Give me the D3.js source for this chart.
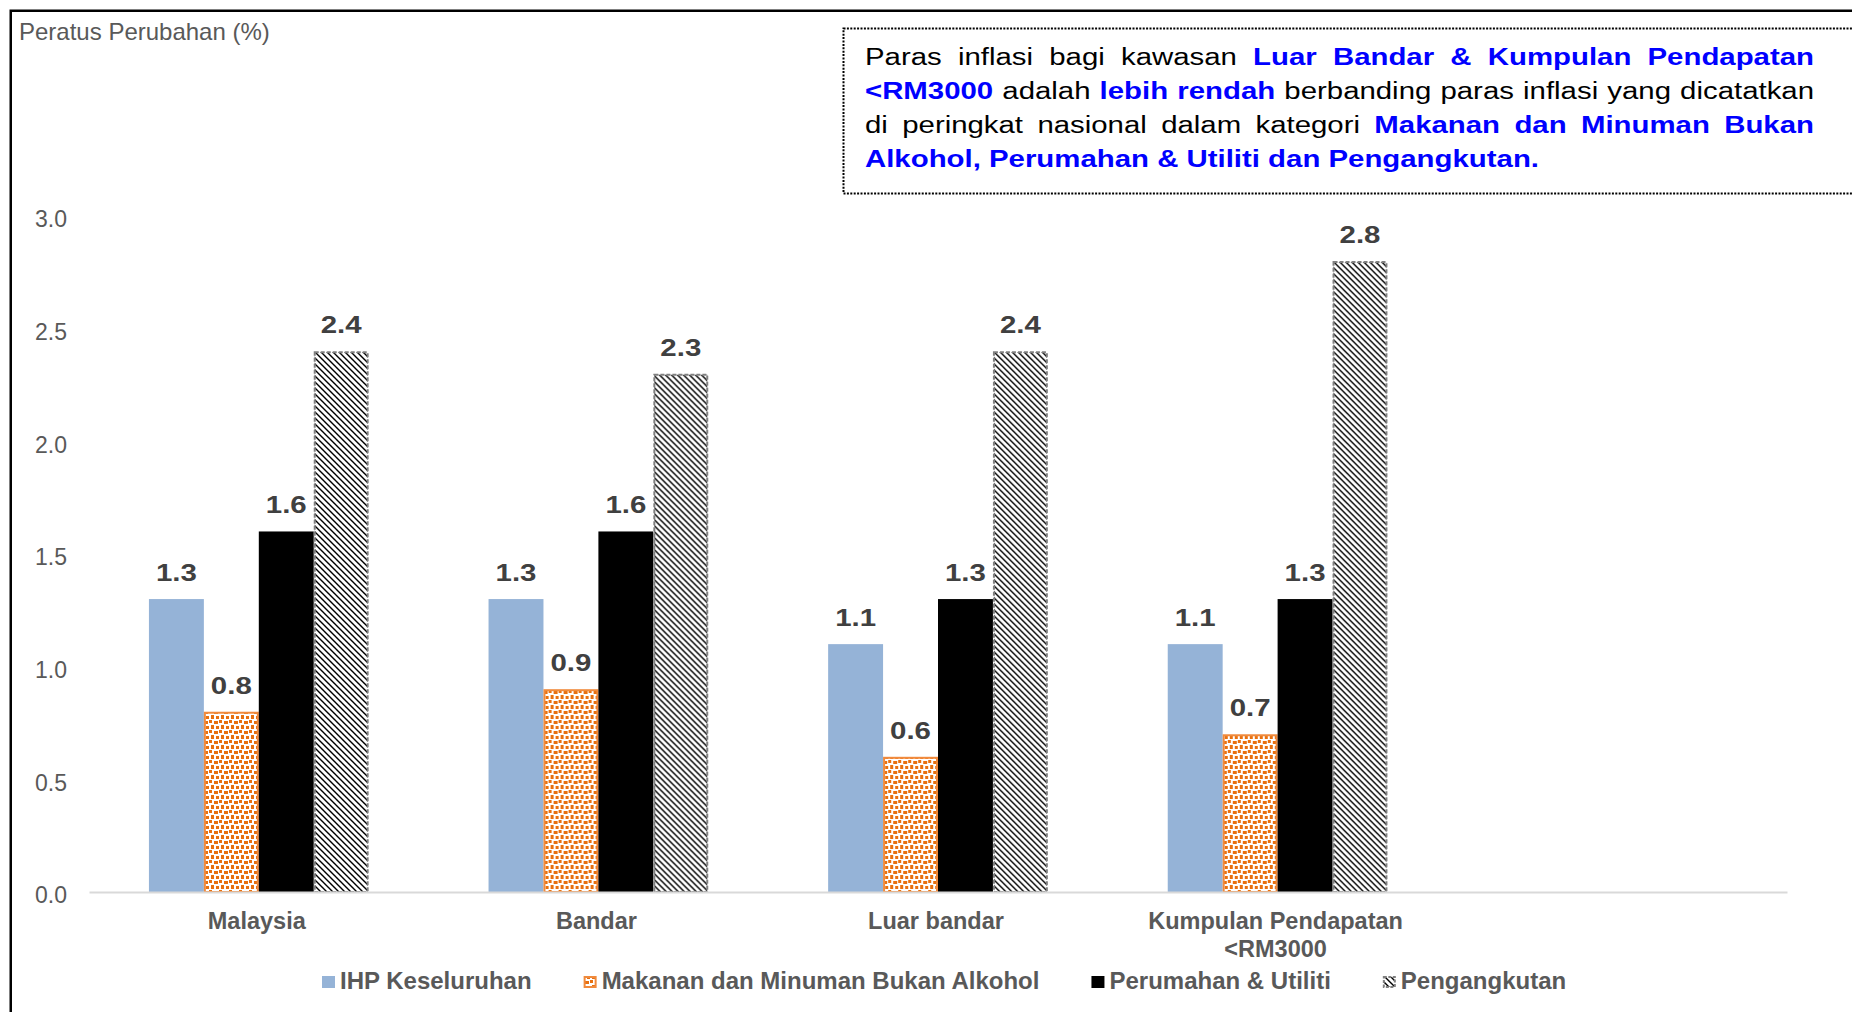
<!DOCTYPE html>
<html>
<head>
<meta charset="utf-8">
<script src="https://cdn.jsdelivr.net/npm/d3@7"></script>
<style>
  html, body { margin: 0; padding: 0; background: #fff; }
  svg { display: block; font-family: "Liberation Sans", Arial, sans-serif; }
</style>
</head>
<body>
<svg id="chart" width="1852" height="1012"></svg>
<script>
// ---- DATA ----
const categories = ["Malaysia", "Bandar", "Luar bandar", "Kumpulan Pendapatan\n<RM3000"];
const series = ["IHP Keseluruhan", "Makanan dan Minuman Bukan Alkohol", "Perumahan & Utiliti", "Pengangkutan"];
const ihpKeseluruhan = [1.3, 1.3, 1.1, 1.1];
const makananMinuman = [0.8, 0.9, 0.6, 0.7];
const perumahanUtiliti = [1.6, 1.6, 1.3, 1.3];
const pengangkutan = [2.4, 2.3, 2.4, 2.8];
const yTicks = [0, 0.5, 1.0, 1.5, 2.0, 2.5, 3.0];
const yTitle = "Peratus Perubahan (%)";
const noteLines = [
  [["Paras inflasi bagi kawasan", false], ["Luar Bandar & Kumpulan Pendapatan", true]],
  [["<RM3000", true], ["adalah", false], ["lebih rendah", true], ["berbanding paras inflasi yang dicatatkan", false]],
  [["di peringkat nasional dalam kategori", false], ["Makanan dan Minuman Bukan", true]],
  [["Alkohol, Perumahan & Utiliti dan Pengangkutan.", true]]
];

const seriesValues = [ihpKeseluruhan, makananMinuman, perumahanUtiliti, pengangkutan];

const svg = d3.select("#chart");
const defs = svg.append("defs");

// hatch pattern (downward diagonal)
const hp = defs.append("pattern").attr("id", "hatch").attr("patternUnits", "userSpaceOnUse")
  .attr("width", 6).attr("height", 6);
hp.append("rect").attr("width", 6).attr("height", 6).attr("fill", "#fff");
hp.append("path").attr("d", "M-1,-1 L7,7 M-1,5 L1,7 M5,-1 L7,1")
  .attr("stroke", "#000").attr("stroke-width", 1.4);

// confetti pattern (orange)
const cp = defs.append("pattern").attr("id", "confetti").attr("patternUnits", "userSpaceOnUse")
  .attr("width", 10).attr("height", 10);
cp.append("rect").attr("width", 10).attr("height", 10).attr("fill", "#fff");
[[0,0,3,3],[5,1,4,3],[2,5,3,4],[7,6,3,3]].forEach(r =>
  cp.append("rect").attr("x", r[0]).attr("y", r[1]).attr("width", r[2]).attr("height", r[3]).attr("fill", "#E8700F"));

const fills = ["#95B3D7", "url(#confetti)", "#000000", "url(#hatch)"];
const strokes = ["none", "#F08A3C", "none", "#808080"];
const dashes = [null, null, null, "4,2"];

// outer frame (extends off-canvas right/bottom)
svg.append("rect").attr("x", 10.75).attr("y", 10.75).attr("width", 1900).attr("height", 1100)
  .attr("fill", "none").attr("stroke", "#000").attr("stroke-width", 2.5);

// scales
const x0 = d3.scaleBand().domain([...categories, "__empty__"]).range([89, 1787]).padding(0);
const bw = x0.bandwidth();
const x1 = d3.scaleBand().domain(series).range([bw * 0.1765, bw * 0.8235]).padding(0);
const y = d3.scaleLinear().domain([0, 3]).range([892, 216]);

// y axis title
svg.append("text").attr("x", 19).attr("y", 39.5).attr("font-size", 24).attr("fill", "#595959").text(yTitle);

// y tick labels via axis
const yAxis = d3.axisLeft(y).tickValues(yTicks).tickFormat(d3.format(".1f")).tickSize(0).tickPadding(0);
const yg = svg.append("g").attr("transform", "translate(67,0)").call(yAxis);
yg.select(".domain").remove();
yg.selectAll("text").attr("font-size", 23).attr("fill", "#595959")
  .attr("font-family", "Liberation Sans, Arial, sans-serif").attr("dy", "10.7").attr("text-anchor", "end");

// bars
const groups = svg.append("g").selectAll("g").data(categories).join("g")
  .attr("transform", d => `translate(${x0(d)},0)`);
series.forEach((s, si) => {
  const inset = strokes[si] !== "none" ? 1 : 0;
  groups.append("rect")
    .attr("x", () => x1(s) + inset)
    .attr("y", (d, i) => y(seriesValues[si][i]) + inset)
    .attr("width", x1.bandwidth() - 2 * inset)
    .attr("height", (d, i) => y(0) - y(seriesValues[si][i]) - inset)
    .attr("fill", fills[si])
    .attr("stroke", strokes[si])
    .attr("stroke-width", 2)
    .attr("stroke-dasharray", dashes[si]);
});

// x axis line
const xAxis = d3.axisBottom(x0).tickSize(0).tickFormat("");
const xg = svg.append("g").attr("transform", `translate(0,${y(0)})`).call(xAxis);
xg.select(".domain").attr("stroke", "#D9D9D9").attr("stroke-width", 2);

// data labels
series.forEach((s, si) => {
  groups.append("text")
    .attr("transform", (d, i) => `translate(${x1(s) + x1.bandwidth() / 2},${y(seriesValues[si][i]) - 18}) scale(1.28,1)`)
    .attr("text-anchor", "middle")
    .attr("font-size", 23).attr("font-weight", "bold").attr("fill", "#404040")
    .text((d, i) => seriesValues[si][i].toFixed(1));
});

// category labels
groups.append("text")
  .attr("text-anchor", "middle")
  .attr("font-size", 23.5).attr("font-weight", "bold").attr("fill", "#595959")
  .each(function (d) {
    const t = d3.select(this);
    d.split("\n").forEach((line, li) => {
      t.append("tspan").attr("x", bw / 2 - 2).attr("y", 929 + li * 27.5).text(line);
    });
  });

// legend
const legend = svg.append("g");
let lx = 322;
series.forEach((s, si) => {
  const ins = strokes[si] !== "none" ? 1 : 0;
  legend.append("rect").attr("x", lx + ins).attr("y", 976 + ins)
    .attr("width", 13 - 2 * ins).attr("height", 12 - 2 * ins)
    .attr("fill", fills[si]).attr("stroke", strokes[si]).attr("stroke-width", 2)
    .attr("stroke-dasharray", si === 3 ? "3,1.5" : null);
  const t = legend.append("text").attr("x", lx + 18).attr("y", 989)
    .attr("font-size", 24).attr("font-weight", "bold").attr("fill", "#595959").text(s);
  lx = lx + 18 + t.node().getComputedTextLength() + 52;
});

// annotation box
svg.append("rect").attr("x", 843.5).attr("y", 28.5).attr("width", 1100).attr("height", 165)
  .attr("fill", "#fff").attr("stroke", "#000").attr("stroke-width", 2).attr("stroke-dasharray", "2,1.4");

const sx = 1.25;
const noteX = 865, noteW = 949;
const innerW = noteW / sx;
const baselines = [65.5, 99.5, 133.5, 167];
const ng = svg.append("g").attr("transform", `translate(${noteX},0) scale(${sx},1)`);
noteLines.forEach((segs, li) => {
  const words = [];
  segs.forEach(([txt, bold]) => txt.split(" ").forEach(w => words.push({ w, bold })));
  const nodes = words.map(o => ng.append("text").attr("y", baselines[li]).attr("font-size", 23.5)
    .attr("font-weight", o.bold ? "bold" : "normal").attr("fill", o.bold ? "#0000FF" : "#000").text(o.w));
  const widths = nodes.map(n => n.node().getComputedTextLength());
  const total = d3.sum(widths);
  const justify = li < noteLines.length - 1;
  const gap = justify ? (innerW - total) / (words.length - 1) : 23.5 * 0.278;
  let cx = 0;
  nodes.forEach((n, i) => { n.attr("x", cx); cx += widths[i] + gap; });
});
</script>
</body>
</html>
